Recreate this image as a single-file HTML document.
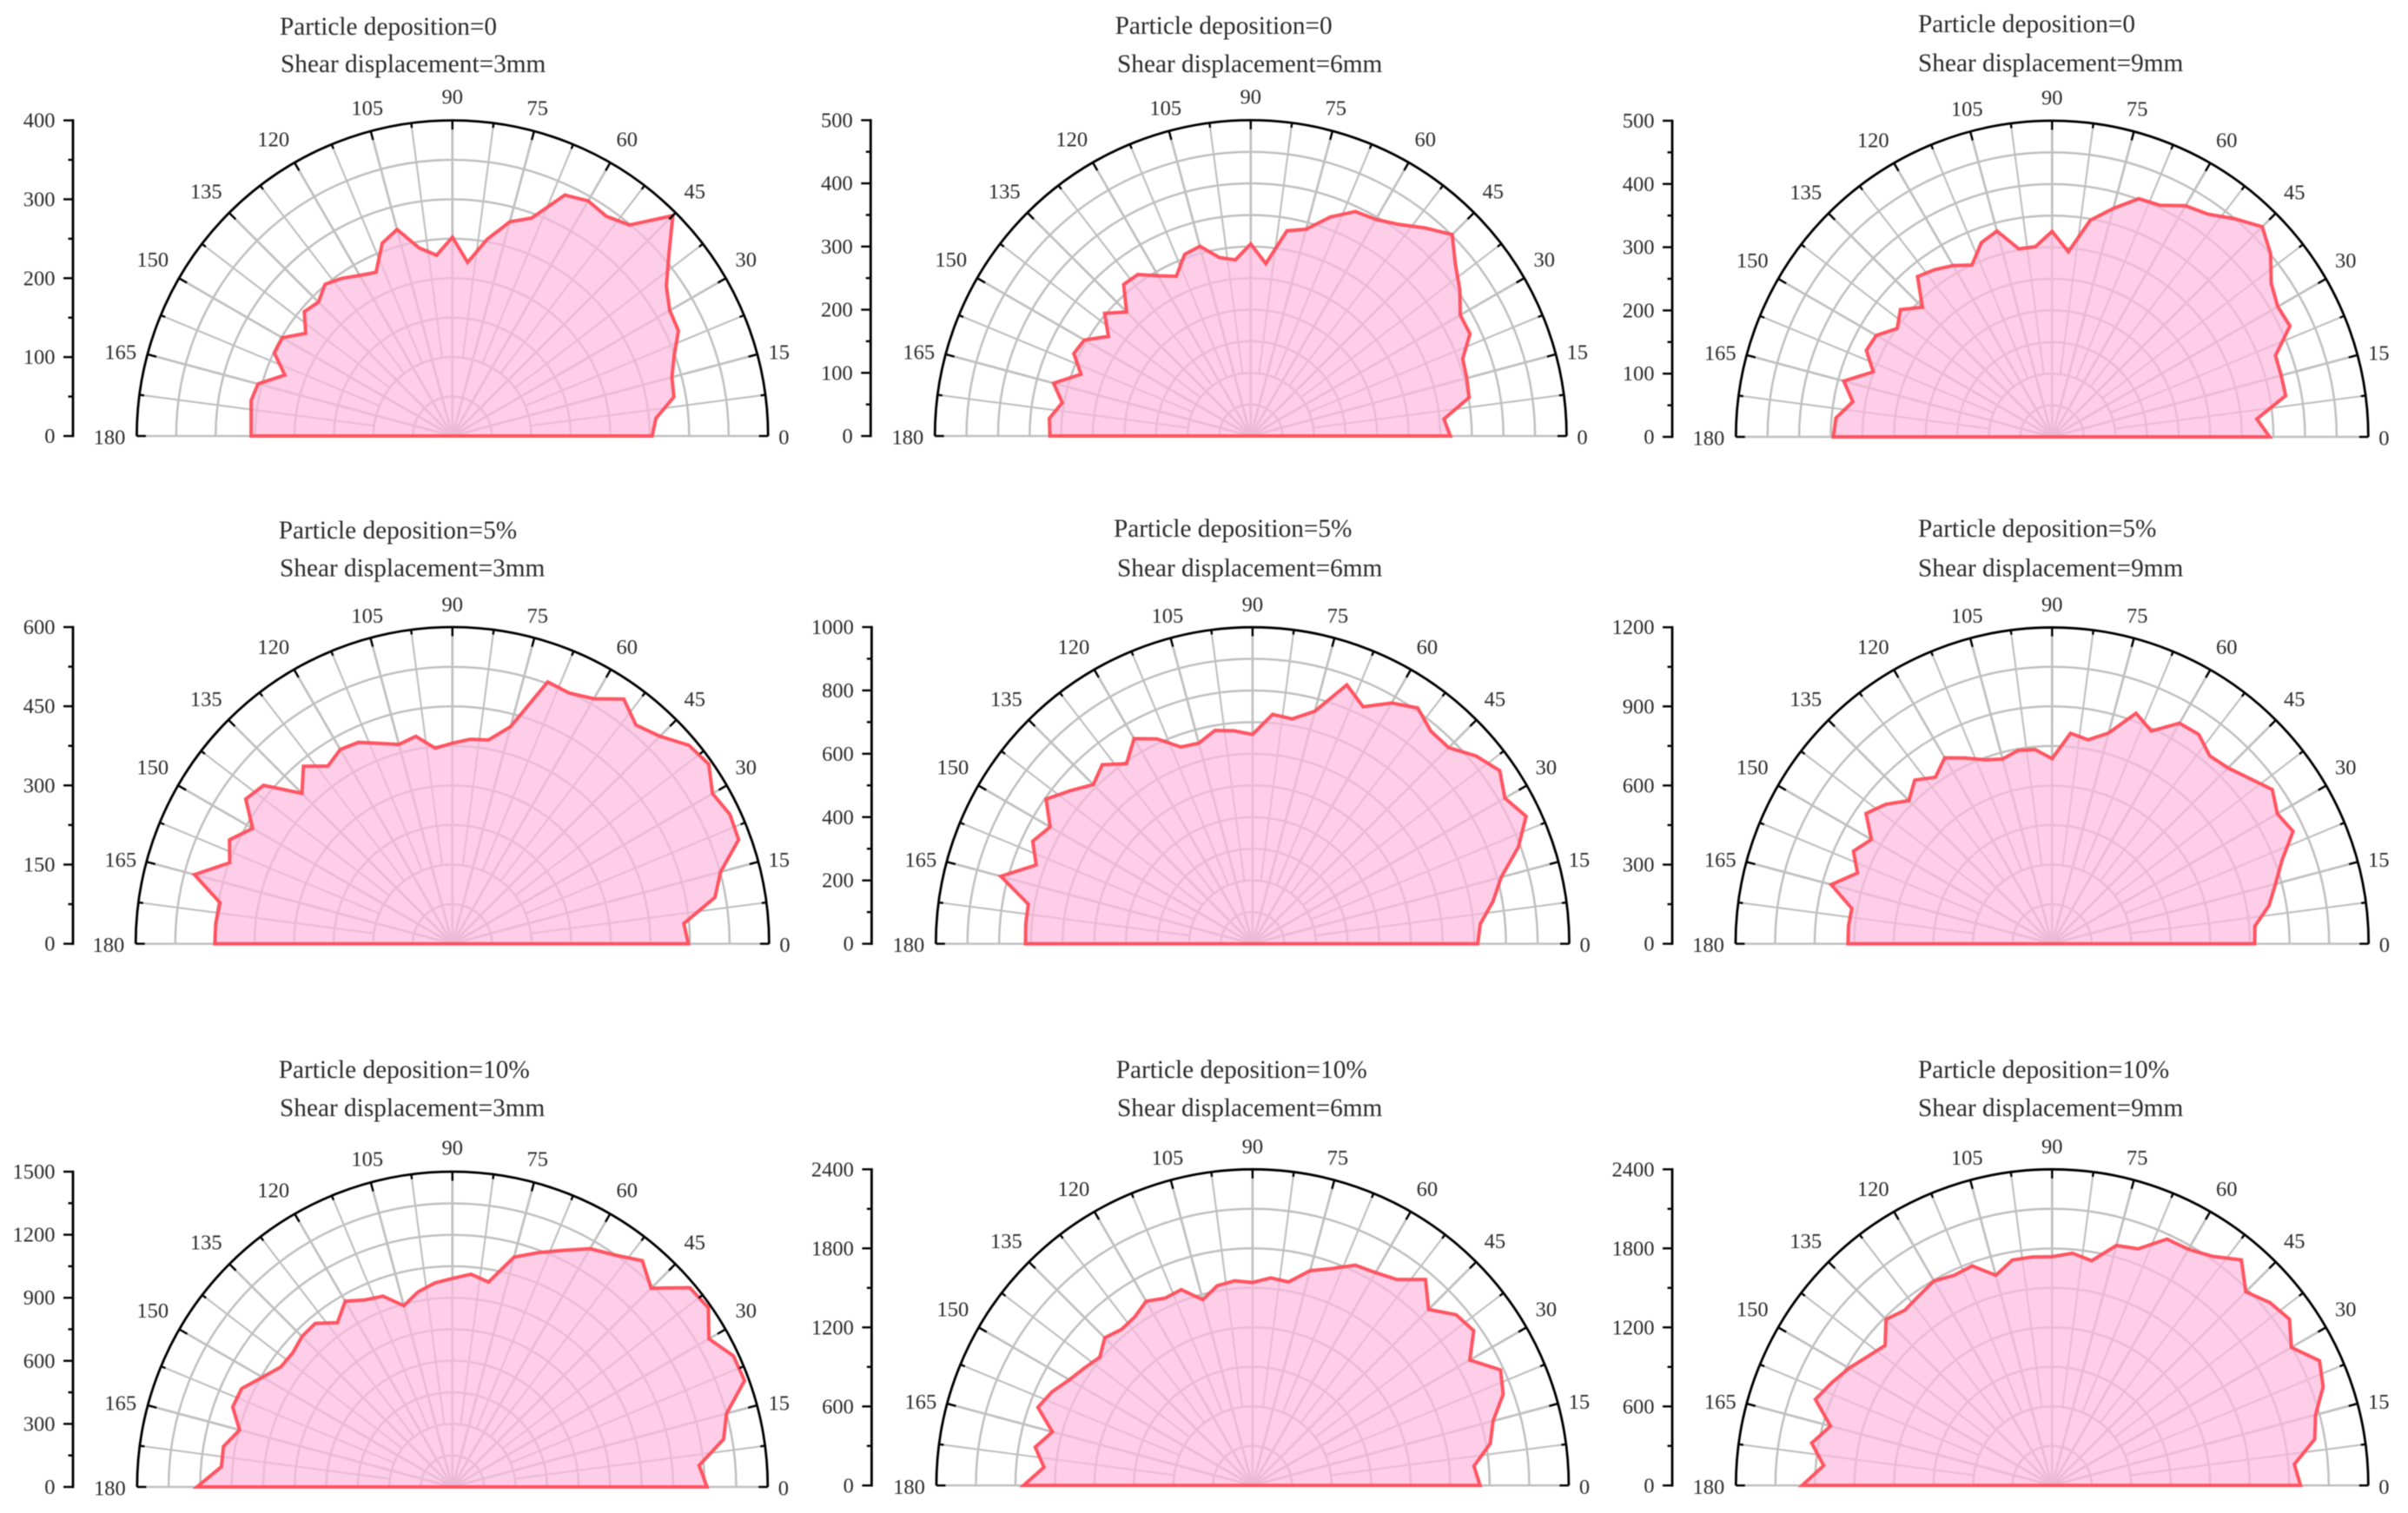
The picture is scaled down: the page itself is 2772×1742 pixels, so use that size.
<!DOCTYPE html>
<html lang="en">
<head>
<meta charset="utf-8">
<title>Particle deposition polar charts</title>
<style>
html,body{margin:0;padding:0;background:#fff;width:2772px;height:1742px;overflow:hidden}
svg{display:block;filter:blur(0.45px)}
text{font-family:"Liberation Serif","Times New Roman",serif;fill:#2b2b2b}
</style>
</head>
<body>
<svg id="chart" xmlns="http://www.w3.org/2000/svg" width="2772" height="1742" viewBox="0 0 2772 1742"></svg>
<script>
const angleCategories = [0,5,10,15,20,25,30,35,40,45,50,55,60,65,70,75,80,85,90,95,100,105,110,115,120,125,130,135,140,145,150,155,160,165,170,175,180];
const angleTickLabels = [0,15,30,45,60,75,90,105,120,135,150,165,180];

const seriesD0S3 = [253,259,285,288,299,316,318,331,358,395,349,340,344,337,294,281,253,221,252,230,242,271,260,229,235,244,251,240,245,227,249,249,226,255,259,256,255];
const seriesD0S6 = [316,307,351,354,357,383,383,404,423,451,430,409,396,392,369,339,330,274,304,280,287,311,306,279,293,312,313,278,302,275,304,309,286,323,303,320,318];
const seriesD0S9 = [344,325,375,375,376,415,412,423,451,470,450,430,422,404,401,374,348,294,325,302,302,337,327,300,313,323,331,290,313,299,321,324,301,341,320,343,346];
const seriesD5S3 = [447,440,505,526,577,580,569,593,585,556,541,566,536,524,528,426,392,389,380,372,399,391,404,421,425,411,439,403,467,478,437,466,449,506,447,450,450];
const seriesD5S6 = [711,722,771,813,893,953,920,953,922,876,876,909,878,826,870,760,721,727,661,675,684,656,661,714,748,694,738,711,752,796,738,766,727,823,719,719,717];
const seriesD5S9 = [768,772,835,877,928,1008,986,1019,976,943,930,969,966,890,930,827,785,801,702,739,744,725,742,777,814,771,810,768,823,861,791,831,785,867,771,775,774];
const seriesD10S3 = [1211,1178,1310,1350,1479,1475,1409,1486,1475,1337,1405,1347,1309,1242,1186,1132,990,1016,992,974,942,893,966,982,1020,954,1016,1012,992,996,1044,1107,1112,1048,1106,1103,1215];
const seriesD10S6 = [1727,1687,1832,1890,2024,2077,1904,2049,2017,1890,2042,1909,1866,1845,1752,1688,1569,1582,1541,1560,1540,1460,1582,1569,1615,1561,1547,1586,1514,1556,1605,1681,1734,1573,1675,1589,1738];
const seriesD10S9 = [1886,1846,2024,2070,2189,2240,2097,2200,2159,2079,2235,2123,2070,2064,1912,1886,1733,1770,1737,1741,1738,1652,1774,1760,1793,1760,1738,1783,1654,1708,1780,1846,1912,1741,1853,1741,1897];

const radialMaxima = [400,500,500,600,1000,1200,1500,2400,2400];
const radialMajorSteps = [100,100,100,150,200,300,300,600,600];
const depositionLabels = ["Particle deposition=0","Particle deposition=0","Particle deposition=0","Particle deposition=5%","Particle deposition=5%","Particle deposition=5%","Particle deposition=10%","Particle deposition=10%","Particle deposition=10%"];
const shearLabels = ["Shear displacement=3mm","Shear displacement=6mm","Shear displacement=9mm","Shear displacement=3mm","Shear displacement=6mm","Shear displacement=9mm","Shear displacement=3mm","Shear displacement=6mm","Shear displacement=9mm"];
const allSeries = [seriesD0S3,seriesD0S6,seriesD0S9,seriesD5S3,seriesD5S6,seriesD5S9,seriesD10S3,seriesD10S6,seriesD10S9];

const layouts = [
 {cx:520.8,cy:502,r:363.4,ax:84,t1x:322,t1y:31,t2x:323,t2y:74},
 {cx:1439.8,cy:502,r:363.6,ax:1002.3,t1x:1283.6,t1y:30,t2x:1286,t2y:74},
 {cx:2362.3,cy:503,r:364,ax:1925,t1x:2208,t1y:28,t2x:2208,t2y:73},
 {cx:520.8,cy:1086.6,r:364.6,ax:84,t1x:320.7,t1y:611,t2x:322,t2y:654.6},
 {cx:1441.9,cy:1086.6,r:364.6,ax:1003.4,t1x:1282,t1y:609,t2x:1286,t2y:654.6},
 {cx:2362.3,cy:1086.6,r:364.4,ax:1925,t1x:2208,t1y:609,t2x:2208,t2y:654.6},
 {cx:520.8,cy:1712,r:363,ax:84,t1x:320.7,t1y:1232,t2x:322,t2y:1276},
 {cx:1441.9,cy:1710.3,r:364,ax:1003.4,t1x:1284.7,t1y:1232,t2x:1286,t2y:1276},
 {cx:2362.3,cy:1710.3,r:364,ax:1925,t1x:2208,t1y:1232,t2x:2208,t2y:1276}
];
const labelOffsets = {15:[376,97],30:[338,203.5],45:[279,282],60:[201,342],75:[98,378],90:[0,391],105:[-98,378],120:[-206,342],135:[-283.5,282],150:[-345,203.5],165:[-382,97]};

const NS = "http://www.w3.org/2000/svg";
const GRID = "#c0c0c0";
const INK = "#000";
const svgRoot = document.getElementById("chart");

function add(parent, tag, attrs, txt){
  const el = document.createElementNS(NS, tag);
  for (const k in attrs) el.setAttribute(k, attrs[k]);
  if (txt !== undefined) el.textContent = txt;
  parent.appendChild(el);
  return el;
}
function radiusScale(value, max, R){ return value / max * R; }
function polar(L, angle, rad){
  const a = angle * Math.PI / 180;
  return [L.cx + rad * Math.cos(a), L.cy - rad * Math.sin(a)];
}
function yScale(L, value, max){ return L.cy - radiusScale(value, max, L.r); }

allSeries.forEach(function(values, idx){
  const L = layouts[idx];
  const max = radialMaxima[idx];
  const major = radialMajorSteps[idx];
  const minor = major / 2;

  const g = add(svgRoot, "g", {});
  
  

  const t1 = add(g, "text", {x:L.t1x, y:L.t1y + 9, "font-size":"29.3"}, depositionLabels[idx]);
  
  
  const t2 = add(g, "text", {x:L.t2x, y:L.t2y + 9, "font-size":"29.3"}, shearLabels[idx]);
  
  

  // rings
  for (let v = minor; v < max - 1e-6; v += minor){
    const rr = radiusScale(v, max, L.r);
    const ring = add(g, "path", {d:"M"+(L.cx-rr)+" "+L.cy+" A"+rr+" "+rr+" 0 0 1 "+(L.cx+rr)+" "+L.cy, fill:"none", stroke:GRID, "stroke-width":"2.5"});
    
    
  }
  // spokes
  const ringTwo = radiusScale(2 * minor, max, L.r);
  for (let i = 1; i < 24; i++){
    const ang = i * 7.5;
    const isMajor = i % 2 === 0;
    const p0 = polar(L, ang, isMajor ? 0 : ringTwo);
    const p1 = polar(L, ang, L.r);
    const sp = add(g, "line", {x1:p0[0], y1:p0[1], x2:p1[0], y2:p1[1], stroke:GRID, "stroke-width": isMajor ? "2.7" : "2.1"});
    
    
  }
  const base = add(g, "line", {x1:L.cx-L.r, y1:L.cy, x2:L.cx+L.r, y2:L.cy, stroke:GRID, "stroke-width":"2.5"});
  
  

  // series
  const pts = values.map(function(v, i){
    const p = polar(L, angleCategories[i], radiusScale(v, max, L.r));
    return p[0].toFixed(1) + "," + p[1].toFixed(1);
  }).join(" ");
  const area = add(g, "polygon", {points:pts, fill:"#feb8de", "fill-opacity":"0.7", stroke:"none"});
  
  
  const outline = add(g, "polygon", {points:pts, fill:"none", stroke:"#ff4d5a", "stroke-width":"4", "stroke-linejoin":"miter", "stroke-opacity":"0.95"});
  
  

  // outer arc
  const arc = add(g, "path", {d:"M"+(L.cx-L.r)+" "+L.cy+" A"+L.r+" "+L.r+" 0 0 1 "+(L.cx+L.r)+" "+L.cy, fill:"none", stroke:INK, "stroke-width":"2.8"});
  
  
  for (let i = 0; i <= 24; i++){
    const ang = i * 7.5;
    const len = i % 2 === 0 ? 10.5 : 5.5;
    const p0 = polar(L, ang, L.r);
    const p1 = polar(L, ang, L.r - len);
    const tk = add(g, "line", {x1:p0[0], y1:p0[1], x2:p1[0], y2:p1[1], stroke:INK, "stroke-width":"2.4"});
    
    
  }
  // angle labels
  angleTickLabels.forEach(function(a){
    let tx, ty, anchor;
    if (a === 0){ tx = L.cx + L.r + 12; ty = L.cy + 1; anchor = "start"; }
    else if (a === 180){ tx = L.cx - L.r - 13; ty = L.cy + 1; anchor = "end"; }
    else {
      tx = L.cx + labelOffsets[a][0]; ty = L.cy - labelOffsets[a][1]; anchor = "middle";
    }
    const lab = add(g, "text", {x:tx, y:ty + 8.5, "font-size":"24.5", "text-anchor":anchor}, String(a));
    
    
  });

  // y axis
  const yTop = yScale(L, max, max);
  const axis = add(g, "line", {x1:L.ax, y1:yTop - 1.3, x2:L.ax, y2:L.cy + 1.3, stroke:INK, "stroke-width":"2.8"});
  
  
  for (let v = 0; v <= max + 1e-6; v += minor){
    const y = yScale(L, v, max);
    const isMaj = Math.abs(v / major - Math.round(v / major)) < 1e-6;
    const tick = add(g, "line", {x1:L.ax - (isMaj ? 11 : 5.5), y1:y, x2:L.ax, y2:y, stroke:INK, "stroke-width":"2.4"});
    
    
    if (isMaj){
      const yl = add(g, "text", {x:L.ax - 20.5, y:y + 8, "font-size":"24.5", "text-anchor":"end"}, String(v));
      
      
    }
  }
});
</script>
</body>
</html>
